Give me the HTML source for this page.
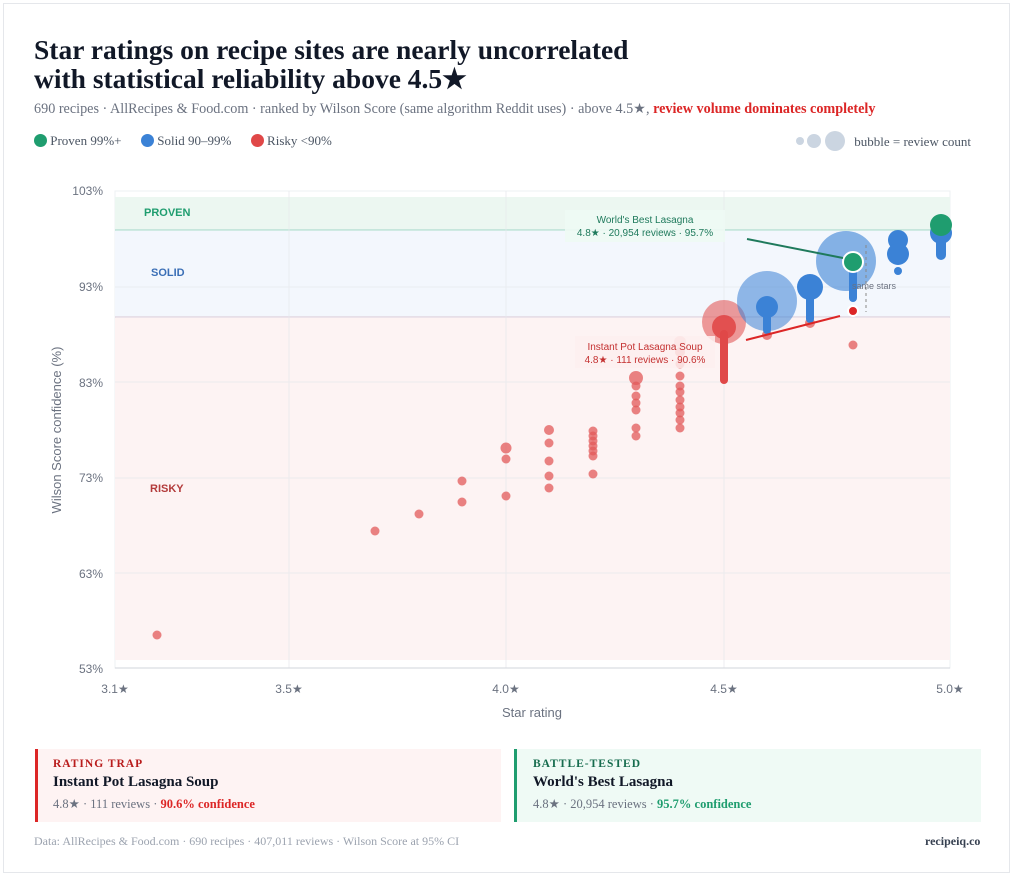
<!DOCTYPE html>
<html><head><meta charset="utf-8"><style>
body{margin:0;background:#fff;font-family:"Liberation Serif",serif;}
.frame{position:absolute;left:3px;top:3px;width:1007px;height:870px;border:1px solid #e5e7eb;box-sizing:border-box;}
.t{position:absolute;white-space:nowrap;}
</style></head><body>
<div class="frame"></div>
<div class="t" style="left:34px;top:35px;font-size:27.5px;font-weight:bold;color:#111827;line-height:29px;">Star ratings on recipe sites are nearly uncorrelated<br>with statistical reliability above 4.5★</div>
<div class="t" style="left:34px;top:101px;font-size:14.2px;color:#6b7280;">690 recipes · AllRecipes &amp; Food.com · ranked by Wilson Score (same algorithm Reddit uses) · above 4.5★, <b style="color:#dc2626">review volume dominates completely</b></div>
<div class="t" style="left:34px;top:133px;font-size:13px;color:#4b5563;">
<span style="display:inline-block;width:13px;height:13px;border-radius:50%;background:#1f9d6f;vertical-align:-2px"></span> Proven 99%+ &nbsp;&nbsp;&nbsp;&nbsp;
<span style="display:inline-block;width:13px;height:13px;border-radius:50%;background:#3b82d6;vertical-align:-2px"></span> Solid 90–99% &nbsp;&nbsp;&nbsp;&nbsp;
<span style="display:inline-block;width:13px;height:13px;border-radius:50%;background:#e04848;vertical-align:-2px"></span> Risky &lt;90%</div>
<div class="t" style="left:796px;top:131px;font-size:13px;color:#4b5563;">
<span style="display:inline-block;width:8px;height:8px;border-radius:50%;background:#cbd5e1;vertical-align:1px"></span>
<span style="display:inline-block;width:14px;height:14px;border-radius:50%;background:#cbd5e1;vertical-align:-2px"></span>
<span style="display:inline-block;width:20px;height:20px;border-radius:50%;background:#cbd5e1;vertical-align:-5px"></span>
&nbsp;&nbsp;bubble = review count</div>

<svg style="position:absolute;left:0;top:0" width="1013" height="740" font-family="Liberation Sans,sans-serif">
<rect x="115" y="191" width="835" height="477" fill="#fff" stroke="#eef0f3"/>
<rect x="115" y="197" width="835" height="33" fill="#ecf7f1"/>
<line x1="115" y1="230" x2="950" y2="230" stroke="#9fd6c7"/>
<rect x="115" y="231" width="835" height="86" fill="#f3f7fd"/>
<line x1="115" y1="317" x2="950" y2="317" stroke="#d9c7d4"/>
<rect x="115" y="318" width="835" height="342" fill="#fdf3f3"/>
<g stroke="#e6e8ec" stroke-width="1" opacity=".7">
<line x1="289" y1="191" x2="289" y2="668"/><line x1="506" y1="191" x2="506" y2="668"/><line x1="724" y1="191" x2="724" y2="668"/>
<line x1="115" y1="287" x2="950" y2="287"/><line x1="115" y1="382" x2="950" y2="382"/><line x1="115" y1="478" x2="950" y2="478"/><line x1="115" y1="573" x2="950" y2="573"/>
</g>
<line x1="115" y1="668" x2="950" y2="668" stroke="#d1d5db"/>
<g font-size="11" fill="#1f9d6f" font-weight="bold"><text x="144" y="216">PROVEN</text></g>
<text x="151" y="276" font-size="11" fill="#3b6fb6" font-weight="bold">SOLID</text>
<text x="150" y="492" font-size="11" fill="#b33b3b" font-weight="bold">RISKY</text>
<g font-size="12" fill="#6b7280" text-anchor="end">
<text x="103" y="195">103%</text><text x="103" y="291">93%</text><text x="103" y="387">83%</text><text x="103" y="482">73%</text><text x="103" y="578">63%</text><text x="103" y="673">53%</text></g>
<g font-size="12" fill="#6b7280" text-anchor="middle">
<text x="115" y="693">3.1★</text><text x="289" y="693">3.5★</text><text x="506" y="693">4.0★</text><text x="724" y="693">4.5★</text><text x="950" y="693">5.0★</text></g>
<text x="532" y="717" font-size="13" fill="#6b7280" text-anchor="middle">Star rating</text>
<text transform="translate(61,430) rotate(-90)" font-size="13" fill="#6b7280" text-anchor="middle">Wilson Score confidence (%)</text>

<g fill="#e25a5a" fill-opacity=".75">
<circle cx="157" cy="635" r="4.5"/><circle cx="375" cy="531" r="4.5"/><circle cx="419" cy="514" r="4.5"/>
<circle cx="462" cy="481" r="4.5"/><circle cx="462" cy="502" r="4.5"/>
<circle cx="506" cy="448" r="5.5"/><circle cx="506" cy="459" r="4.5"/><circle cx="506" cy="496" r="4.5"/>
<circle cx="549" cy="430" r="5"/><circle cx="549" cy="443" r="4.5"/><circle cx="549" cy="461" r="4.5"/><circle cx="549" cy="476" r="4.5"/><circle cx="549" cy="488" r="4.5"/>
<circle cx="593" cy="431" r="4.5"/><circle cx="593" cy="436" r="4.5"/><circle cx="593" cy="441" r="4.5"/><circle cx="593" cy="446" r="4.5"/><circle cx="593" cy="451" r="4.5"/><circle cx="593" cy="456" r="4.5"/><circle cx="593" cy="474" r="4.5"/>
<circle cx="636" cy="378" r="7"/><circle cx="636" cy="386" r="4.5"/><circle cx="636" cy="396" r="4.5"/><circle cx="636" cy="403" r="4.5"/><circle cx="636" cy="410" r="4.5"/><circle cx="636" cy="428" r="4.5"/><circle cx="636" cy="436" r="4.5"/>
<circle cx="680" cy="342" r="6" fill-opacity=".35"/><circle cx="680" cy="352" r="5"/><circle cx="680" cy="364" r="4.5"/><circle cx="680" cy="376" r="4.5"/><circle cx="680" cy="386" r="4.5"/><circle cx="680" cy="392" r="4.5"/><circle cx="680" cy="400" r="4.5"/><circle cx="680" cy="407" r="4.5"/><circle cx="680" cy="413" r="4.5"/><circle cx="680" cy="420" r="4.5"/><circle cx="680" cy="428" r="4.5"/>
<circle cx="724" cy="322" r="22" fill-opacity=".6"/>
<rect x="720" y="330" width="8" height="54" rx="4" fill="#e04848" fill-opacity="1"/>
<circle cx="724" cy="327" r="12" fill="#e04848" fill-opacity=".9"/>
<circle cx="767" cy="335" r="5"/><circle cx="810" cy="323" r="5"/><circle cx="853" cy="345" r="4.5"/>
</g>
<g fill="#3b82d6">
<circle cx="767" cy="301" r="30" fill-opacity=".55"/>
<rect x="763" y="308" width="8" height="26" rx="4"/>
<circle cx="767" cy="307" r="11"/>
<rect x="806" y="290" width="8" height="33" rx="4"/>
<circle cx="810" cy="287" r="13"/>
<circle cx="846" cy="261" r="30" fill-opacity=".6"/>
<rect x="849" y="262" width="8" height="40" rx="4"/>
<circle cx="898" cy="240" r="10"/><circle cx="898" cy="254" r="11"/><circle cx="898" cy="271" r="4"/>
<rect x="936" y="215" width="10" height="45" rx="5"/>
<circle cx="941" cy="233" r="11"/>
</g>
<circle cx="941" cy="225" r="11" fill="#1f9d6f"/>
<line x1="866" y1="245" x2="866" y2="312" stroke="#888" stroke-dasharray="3,3"/>
<text x="852" y="289" font-size="9" fill="#6b7280">same stars</text>
<circle cx="853" cy="262" r="10" fill="#1f9d6f" stroke="#fff" stroke-width="2"/>
<circle cx="853" cy="311" r="5" fill="#dc2626" stroke="#fff" stroke-width="2"/>
<line x1="747" y1="239" x2="843" y2="258" stroke="#1f7a5c" stroke-width="2"/>
<line x1="746" y1="340" x2="840" y2="316" stroke="#dc2626" stroke-width="2"/>
<rect x="565" y="210" width="160" height="32" fill="#eefaf4" fill-opacity=".9"/>
<text x="645" y="223" font-size="10" fill="#1f7a5c" text-anchor="middle">World's Best Lasagna</text>
<text x="645" y="236" font-size="10" fill="#1f7a5c" text-anchor="middle">4.8★ · 20,954 reviews · 95.7%</text>
<rect x="575" y="336" width="140" height="32" fill="#fdeeee" fill-opacity=".85"/>
<text x="645" y="350" font-size="10" fill="#c43030" text-anchor="middle">Instant Pot Lasagna Soup</text>
<text x="645" y="363" font-size="10" fill="#c43030" text-anchor="middle">4.8★ · 111 reviews · 90.6%</text>
</svg>

<div style="position:absolute;left:35px;top:749px;width:466px;height:73px;background:#fef3f3;border-left:3px solid #dc2626;box-sizing:border-box;"></div>
<div class="t" style="left:53px;top:758px;font-size:11.5px;letter-spacing:1px;font-weight:bold;color:#b91c1c;">RATING TRAP</div>
<div class="t" style="left:53px;top:774px;font-size:15px;font-weight:bold;color:#111827;">Instant Pot Lasagna Soup</div>
<div class="t" style="left:53px;top:796px;font-size:12.5px;color:#6b7280;">4.8★ · 111 reviews · <b style="color:#dc2626">90.6% confidence</b></div>
<div style="position:absolute;left:514px;top:749px;width:467px;height:73px;background:#effaf5;border-left:3px solid #1f9d6f;box-sizing:border-box;"></div>
<div class="t" style="left:533px;top:758px;font-size:11.5px;letter-spacing:1px;font-weight:bold;color:#166c4e;">BATTLE-TESTED</div>
<div class="t" style="left:533px;top:774px;font-size:15px;font-weight:bold;color:#111827;">World's Best Lasagna</div>
<div class="t" style="left:533px;top:796px;font-size:12.5px;color:#6b7280;">4.8★ · 20,954 reviews · <b style="color:#1f9d6f">95.7% confidence</b></div>
<div class="t" style="left:34px;top:834px;font-size:12px;color:#9ca3af;">Data: AllRecipes &amp; Food.com · 690 recipes · 407,011 reviews · Wilson Score at 95% CI</div>
<div class="t" style="left:925px;top:834px;font-size:12px;font-weight:bold;color:#374151;">recipeiq.co</div>
</body></html>
